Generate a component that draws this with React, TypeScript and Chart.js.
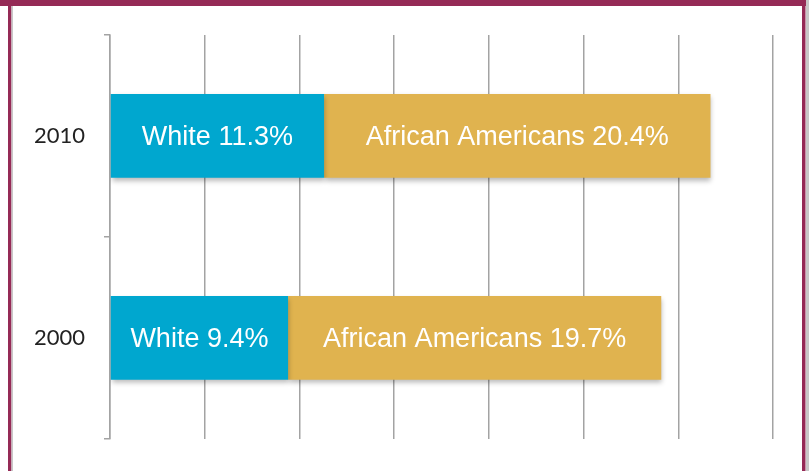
import React, { useEffect, useRef } from "react";
import { Chart, registerables } from "chart.js";

Chart.register(...registerables);

const categories = ["2010", "2000"];
const seriesNames = ["White", "African Americans"];
const whiteValues = [11.3, 9.4];
const africanAmericanValues = [20.4, 19.7];
const seriesColors = ["#00A7CF", "#E0B34F"];

const framePlugin = {
  id: "frame",
  beforeDraw(chart: any) {
    const ctx = chart.ctx;
    const w = chart.width;
    const h = chart.height;
    ctx.save();
    ctx.fillStyle = "#ffffff";
    ctx.fillRect(0, 0, w, h);
    ctx.fillStyle = "#952A56";
    ctx.fillRect(0, 0, w, 6);
    ctx.fillRect(8, 0, 3.5, h);
    ctx.fillRect(802, 0, 3.5, h);
    ctx.fillStyle = "#c8c8c8";
    ctx.fillRect(11.5, 6, 1.5, h);
    ctx.fillRect(806, 0, 3, h);
    ctx.restore();
  },
};

const shadowPlugin = {
  id: "barShadow",
  beforeDatasetsDraw(chart: any) {
    const ctx = chart.ctx;
    ctx.save();
    ctx.shadowColor = "rgba(0,0,0,0.28)";
    ctx.shadowBlur = 5;
    ctx.shadowOffsetX = 1;
    ctx.shadowOffsetY = 3;
  },
  afterDatasetsDraw(chart: any) {
    chart.ctx.restore();
  },
};

const labelPlugin = {
  id: "segLabels",
  afterDatasetsDraw(chart: any) {
    const ctx = chart.ctx;
    ctx.save();
    ctx.fillStyle = "#ffffff";
    ctx.font = '27px "Liberation Sans", Arial, sans-serif';
    ctx.textAlign = "center";
    ctx.textBaseline = "middle";
    chart.data.datasets.forEach((ds: any, di: number) => {
      const meta = chart.getDatasetMeta(di);
      meta.data.forEach((bar: any, i: number) => {
        const props = bar.getProps(["x", "y", "base"], true);
        const cx = (props.x + props.base) / 2;
        ctx.fillText(`${ds.label} ${ds.data[i].toFixed(1)}%`, cx, props.y + 2);
      });
    });
    ctx.restore();
  },
};

export default function App() {
  const ref = useRef<HTMLCanvasElement>(null);
  useEffect(() => {
    if (!ref.current) return;
    const chart = new Chart(ref.current, {
      type: "bar",
      data: {
        labels: categories,
        datasets: [
          {
            label: seriesNames[0],
            data: whiteValues,
            backgroundColor: seriesColors[0],
            borderWidth: 0,
            categoryPercentage: 1,
            barPercentage: 0.415,
          },
          {
            label: seriesNames[1],
            data: africanAmericanValues,
            backgroundColor: seriesColors[1],
            borderWidth: 0,
            categoryPercentage: 1,
            barPercentage: 0.415,
          },
        ],
      },
      options: {
        indexAxis: "y",
        animation: false,
        responsive: false,
        maintainAspectRatio: false,
        layout: { padding: { top: 35, right: 36, bottom: 31, left: 0 } },
        plugins: {
          legend: { display: false },
          tooltip: { enabled: false },
        },
        scales: {
          x: {
            stacked: true,
            min: 0,
            max: 35,
            ticks: { display: false, stepSize: 5 },
            grid: {
              color: "#a3a3a3",
              lineWidth: 1.5,
              drawTicks: false,
            },
            border: { display: false },
            afterFit(scale: any) {
              scale.height = 0;
            },
          },
          y: {
            stacked: true,
            ticks: {
              color: "#222222",
              font: { family: "Lato, 'Open Sans', sans-serif", size: 22 },
              padding: 19,
            },
            grid: {
              offset: true,
              drawOnChartArea: false,
              drawTicks: true,
              tickLength: 6,
              color: "#a3a3a3",
              lineWidth: 1.5,
            },
            border: { display: true, color: "#a3a3a3", width: 1.5 },
            afterFit(scale: any) {
              scale.width = 110;
            },
          },
        },
      },
      plugins: [framePlugin, shadowPlugin, labelPlugin],
    });
    return () => chart.destroy();
  }, []);
  return (
    <div style={{ position: "fixed", left: 0, top: 0, width: 809, height: 471 }}>
      <canvas ref={ref} width={809} height={471} style={{ width: 809, height: 471, display: "block" }} />
    </div>
  );
}
